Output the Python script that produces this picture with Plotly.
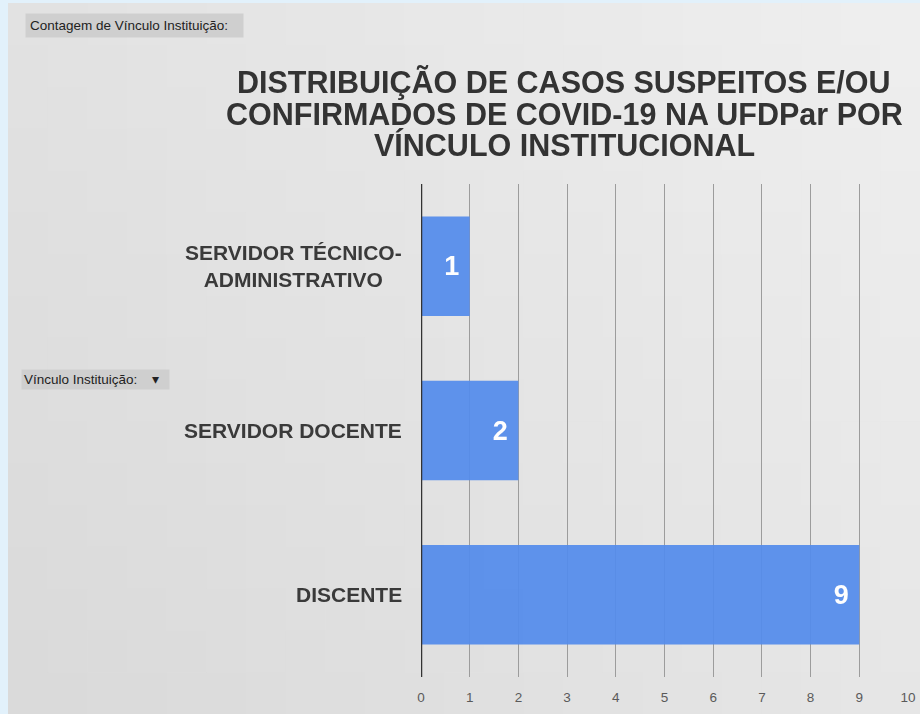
import plotly.graph_objects as go

categories = ["SERVIDOR TÉCNICO-ADMINISTRATIVO", "SERVIDOR DOCENTE", "DISCENTE"]
category_labels = ["SERVIDOR TÉCNICO-<br>ADMINISTRATIVO", "SERVIDOR DOCENTE", "DISCENTE"]
values = [1, 2, 9]
tick_vals = list(range(0, 11))
title_lines = [
    "DISTRIBUIÇÃO DE CASOS SUSPEITOS E/OU",
    "CONFIRMADOS DE COVID-19 NA UFDPar POR",
    "VÍNCULO INSTITUCIONAL",
]

W, H = 920, 714
L, R, T, B = 421, 12, 184, 37
pw, ph = W - L - R, H - T - B

def px(p):
    return (p - L) / pw

def py(q):
    return (H - B - q) / ph

fig = go.Figure()
fig.add_trace(go.Bar(
    y=categories, x=values, orientation="h",
    marker=dict(color="#558ceb", line=dict(width=0)),
    opacity=0.94,
    width=0.605,
    text=["<b>" + str(v) + "\u00a0</b>" for v in values],
    textposition="inside", insidetextanchor="end",
    textfont=dict(family="Liberation Sans, Arial", size=27, color="white"),
    cliponaxis=False,
    hoverinfo="skip",
))

annotations = []
for c, lab in zip(categories, category_labels):
    annotations.append(dict(
        x=px(404), xref="paper", y=c, yref="y", text="<b>" + lab + "</b>",
        showarrow=False, xanchor="right", align="center",
        font=dict(family="Liberation Sans, Arial", size=21, color="#3a3a3a"),
    ))

for i, line in enumerate(title_lines):
    annotations.append(dict(
        x=px(564), xref="paper", y=py(82 + 31.5 * i), yref="paper",
        text="<b>" + line + "</b>", showarrow=False,
        xanchor="center", yanchor="middle",
        font=dict(family="Liberation Sans, Arial", size=30.5, color="#333333"),
    ))

nb = "\u00a0"
annotations.append(dict(
    x=px(25), xref="paper", y=py(25.5), yref="paper",
    text="Contagem de Vínculo Instituição:" + nb * 3, showarrow=False,
    xanchor="left", yanchor="middle", bgcolor="#cfcfcf", borderpad=4,
    font=dict(family="Liberation Sans Narrow, Liberation Sans", size=13.5, color="#222222"),
))
annotations.append(dict(
    x=px(21), xref="paper", y=py(379.5), yref="paper",
    text="Vínculo Instituição:" + nb * 4 + "▾" + nb * 2, showarrow=False,
    xanchor="left", yanchor="middle", bgcolor="#cfcfcf", borderpad=2,
    font=dict(family="Liberation Sans Narrow, Liberation Sans", size=13.5, color="#222222"),
))

shapes = []
# soft background gradient (lighter at top-right, darker at bottom-left)
NX, NY = 23, 17
for i in range(NX):
    for j in range(NY):
        x0p, x1p = 8 + (W - 8) * i / NX, 8 + (W - 8) * (i + 1) / NX
        y0p, y1p = 3 + (H - 3) * j / NY, 3 + (H - 3) * (j + 1) / NY
        fx = (i + 0.5) / NX
        fy = (j + 0.5) / NY
        t = 0.6 * fx + 0.4 * (1 - fy)
        v = int(round(0xd9 + (0xef - 0xd9) * t))
        shapes.append(dict(type="rect", xref="paper", yref="paper",
                           x0=px(x0p), x1=px(x1p + 0.6), y0=py(y1p + 0.6), y1=py(y0p),
                           fillcolor="rgb(%d,%d,%d)" % (v, v, v), line=dict(width=0), layer="below"))
shapes += [
    dict(type="rect", xref="paper", yref="paper", x0=px(0), x1=px(8), y0=py(714), y1=py(0),
         fillcolor="#e2f1fb", line=dict(width=0), layer="below"),
    dict(type="rect", xref="paper", yref="paper", x0=px(0), x1=px(920), y0=py(3), y1=py(0),
         fillcolor="#e2f1fb", line=dict(width=0), layer="below"),
    dict(type="line", xref="x", yref="paper", x0=0, x1=0, y0=0, y1=1,
         line=dict(color="#333333", width=2.5)),
]

fig.update_layout(
    width=W, height=H,
    margin=dict(l=L, r=R, t=T, b=B, autoexpand=False),
    paper_bgcolor="#e4e4e4", plot_bgcolor="rgba(0,0,0,0)",
    showlegend=False,
    xaxis=dict(
        range=[0, 10], tickvals=tick_vals, showgrid=True, gridcolor="#9c9c9c", gridwidth=1,
        zeroline=False, showline=False, ticks="outside", ticklen=8, tickcolor="rgba(0,0,0,0)",
        tickfont=dict(family="Liberation Sans, Arial", size=13.5, color="#5a5a5a"),
        fixedrange=True, automargin=False,
    ),
    yaxis=dict(
        categoryorder="array", categoryarray=categories,
        showticklabels=False, showgrid=False, zeroline=False, showline=False,
        range=[2.5, -0.5], fixedrange=True, automargin=False,
    ),
    annotations=annotations,
    shapes=shapes,
)

fig.write_html("out.html", config={"displayModeBar": False},
               post_script="document.body.style.margin='0px';")
